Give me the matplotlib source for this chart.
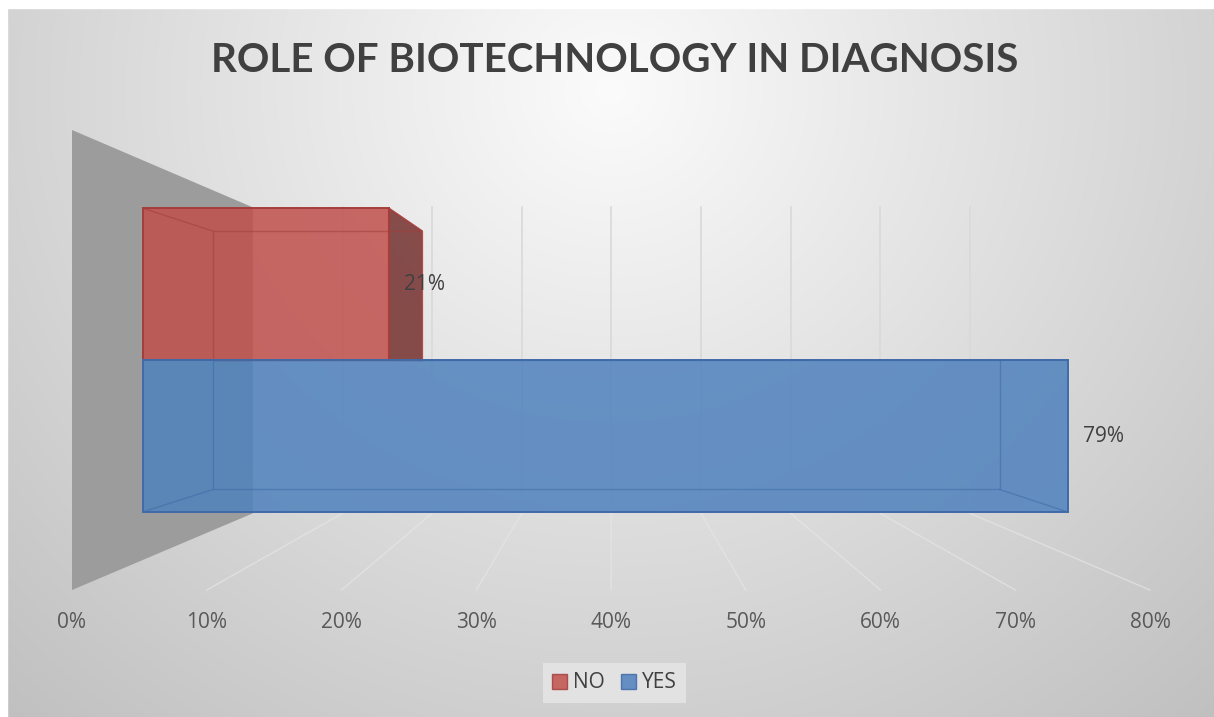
import numpy as np
import matplotlib.pyplot as plt
from matplotlib.patches import Polygon, Patch

series = ["NO", "YES"]
values = [21, 79]
value_labels = ["21%", "79%"]
ticks = [0, 10, 20, 30, 40, 50, 60, 70, 80]
tick_labels = ["0%", "10%", "20%", "30%", "40%", "50%", "60%", "70%", "80%"]
colors = ["#C0504D", "#4F81BD"]
edge_colors = ["#A53E3B", "#3E6BA8"]

W, H = 1214, 717
# perspective set-up (pixels of the front plane, vanishing point, camera distance)
X0, PX_PER_PCT = 72, 13.475
Y_TOP, Y_BOT = 130, 590
VX, VY = 612, 361
CAM = 1.985
BAR_H = 0.38
Z_FRONT, Z_BACK = 0.3, 0.7

plt.rcParams['font.family'] = ['Open Sans', 'DejaVu Sans']


def proj(v, c, z):
    # v: value in %, c: 0 top .. 1 bottom of category axis, z: 0 front .. 1 back
    xf = X0 + v * PX_PER_PCT
    yf = Y_TOP + c * (Y_BOT - Y_TOP)
    s = CAM / (CAM + z)
    return VX + (xf - VX) * s, VY + (yf - VY) * s


def shade(hex_color, k):
    r, g, b = [int(hex_color[i:i + 2], 16) / 255 for i in (1, 3, 5)]
    return (r * k, g * k, b * k)


fig = plt.figure(figsize=(W / 100, H / 100), dpi=100)
ax = fig.add_axes([0, 0, 1, 1])
ax.set_xlim(0, W)
ax.set_ylim(H, 0)
ax.axis("off")

# radial background of the chart area
yy, xx = np.mgrid[0:H, 0:W]
dist = np.sqrt((xx - 610) ** 2 + ((yy - 90) * 1.05) ** 2)
bg = np.clip(251 - 0.066 * dist, 190, 252) / 255
ax.imshow(np.dstack([bg, bg, bg]), extent=(0, W, H, 0), zorder=0)
ax.add_patch(plt.Rectangle((0, 0), W, 8, color="white", zorder=0.5))
ax.add_patch(plt.Rectangle((0, 0), 7, H, color="white", zorder=0.5))

# side wall
wall = [proj(0, 0, 0), proj(0, 0, 1), proj(0, 1, 1), proj(0, 1, 0)]
ax.add_patch(Polygon(wall, closed=True, facecolor="#9C9C9C", edgecolor="none", zorder=1))

# gridlines on the back wall and on the floor
for t in ticks[1:]:
    (xa, ya), (xb, yb) = proj(t, 0, 1), proj(t, 1, 1)
    ax.plot([xa, xb], [ya, yb], color="#D9D9D9", lw=1.2, zorder=1)
    (xa, ya), (xb, yb) = proj(t, 1, 0), proj(t, 1, 1)
    ax.plot([xa, xb], [ya, yb], color="#E6E6E6", lw=1.0, alpha=0.7, zorder=1)

for t, lab in zip(ticks, tick_labels):
    x, _ = proj(t, 1, 0)
    ax.text(x, 622, lab, ha="center", va="center", fontsize=15, color="#595959")

# 3d bars
for i, (name, val, lab) in enumerate(zip(series, values, value_labels)):
    c0 = 0.5 - BAR_H + i * BAR_H
    c1 = c0 + BAR_H
    front = [proj(0, c0, Z_FRONT), proj(val, c0, Z_FRONT), proj(val, c1, Z_FRONT), proj(0, c1, Z_FRONT)]
    back = [proj(0, c0, Z_BACK), proj(val, c0, Z_BACK), proj(val, c1, Z_BACK), proj(0, c1, Z_BACK)]
    # right face is seen only if the bar end is left of the vanishing point
    if X0 + val * PX_PER_PCT < VX:
        side = [front[1], back[1], back[2], front[2]]
        ax.add_patch(Polygon(side, closed=True, facecolor=shade(colors[i], 0.6),
                             edgecolor=edge_colors[i], lw=1.3, alpha=0.85, zorder=3))
    ax.add_patch(Polygon(front, closed=True, facecolor=colors[i], edgecolor="none",
                         alpha=0.85, zorder=3))
    ax.add_patch(Polygon(back, closed=True, facecolor="none", edgecolor=edge_colors[i],
                         lw=1.0, alpha=0.55, zorder=4))
    for p, q in zip(front, back):
        ax.plot([p[0], q[0]], [p[1], q[1]], color=edge_colors[i], lw=1.0, alpha=0.55, zorder=4)
    ax.add_patch(Polygon(front, closed=True, facecolor="none", edgecolor=edge_colors[i],
                         lw=1.4, zorder=5))
    ax.annotate(lab, proj(val, (c0 + c1) / 2, Z_FRONT), xytext=(11, 0),
                textcoords="offset points", ha="left", va="center",
                fontsize=15, color="#404040", zorder=6)

ax.text(615, 60, "ROLE OF BIOTECHNOLOGY IN DIAGNOSIS", ha="center", va="center",
        fontsize=29, fontweight="bold", color="#404040", family=["Lato", "DejaVu Sans"])

handles = [Patch(facecolor=colors[i], edgecolor=edge_colors[i], alpha=0.85) for i in range(len(series))]
leg = fig.legend(handles, series, loc="center", bbox_to_anchor=(614.5 / W, 1 - 683 / H),
                 ncol=2, frameon=True, fontsize=15, handlelength=0.7, handleheight=0.7,
                 handletextpad=0.3, columnspacing=0.8, borderpad=0.45, fancybox=False,
                 labelcolor="#404040")
leg.get_frame().set_facecolor("#E2E2E2")
leg.get_frame().set_edgecolor("none")
leg.get_frame().set_alpha(1)

fig.savefig("out.png", dpi=100)
